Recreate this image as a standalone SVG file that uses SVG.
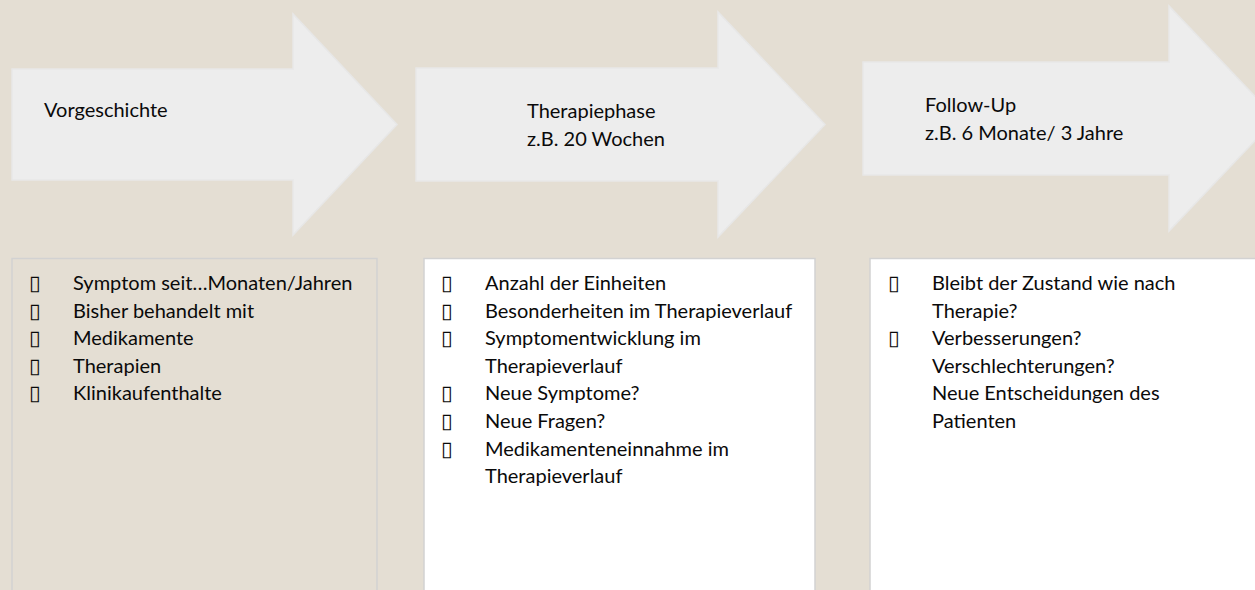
<svg xmlns="http://www.w3.org/2000/svg" width="1255" height="590" viewBox="0 0 1255 590">
  <style>
    .arrow { fill: #EDEDED; stroke: #E7E7E7; stroke-width: 1.5; }
    .box { stroke: #D2D2D2; stroke-width: 1.5; }
    .t { font-family: Lato, "Liberation Sans", sans-serif; font-size: 20px; fill: #0A0A0A; }
    .b { font-family: "DejaVu Sans", sans-serif; font-size: 21px; fill: #0A0A0A; }
  </style>
  <rect x="0" y="0" width="1255" height="590" fill="#E4DED3"/>

  <g id="arrow-vorgeschichte">
    <polygon class="arrow" points="12,69 293,69 293,14 397,124.5 293,235 293,180 12,180"/>
    <text class="t" x="44" y="117">Vorgeschichte</text>
  </g>

  <g id="arrow-therapiephase">
    <polygon class="arrow" points="416,68 718,68 718,12 825,124.5 718,237 718,181 416,181"/>
    <text class="t" x="527" y="118">Therapiephase</text>
    <text class="t" x="527" y="146">z.B. 20 Wochen</text>
  </g>

  <g id="arrow-followup">
    <polygon class="arrow" points="863,62 1169,62 1169,6 1276,118.5 1169,231 1169,175 863,175"/>
    <text class="t" x="925" y="112">Follow-Up</text>
    <text class="t" x="925" y="140">z.B. 6 Monate/ 3 Jahre</text>
  </g>

  <g id="box-vorgeschichte">
    <rect class="box" x="12" y="258.5" width="365" height="345" fill="none"/>
    <text class="b" x="29" y="290">▯</text>
    <text class="b" x="29" y="317.6">▯</text>
    <text class="b" x="29" y="345.2">▯</text>
    <text class="b" x="29" y="372.8">▯</text>
    <text class="b" x="29" y="400.4">▯</text>
    <text class="t" x="73" y="290">Symptom seit…Monaten/Jahren</text>
    <text class="t" x="73" y="317.6">Bisher behandelt mit</text>
    <text class="t" x="73" y="345.2">Medikamente</text>
    <text class="t" x="73" y="372.8">Therapien</text>
    <text class="t" x="73" y="400.4">Klinikaufenthalte</text>
  </g>

  <g id="box-therapiephase">
    <rect class="box" x="424" y="258.5" width="391" height="345" fill="#FFFFFF"/>
    <text class="b" x="441" y="290">▯</text>
    <text class="b" x="441" y="317.6">▯</text>
    <text class="b" x="441" y="345.2">▯</text>
    <text class="b" x="441" y="400.4">▯</text>
    <text class="b" x="441" y="428">▯</text>
    <text class="b" x="441" y="455.6">▯</text>
    <text class="t" x="485" y="290">Anzahl der Einheiten</text>
    <text class="t" x="485" y="317.6">Besonderheiten im Therapieverlauf</text>
    <text class="t" x="485" y="345.2">Symptomentwicklung im</text>
    <text class="t" x="485" y="372.8">Therapieverlauf</text>
    <text class="t" x="485" y="400.4">Neue Symptome?</text>
    <text class="t" x="485" y="428">Neue Fragen?</text>
    <text class="t" x="485" y="455.6">Medikamenteneinnahme im</text>
    <text class="t" x="485" y="483.2">Therapieverlauf</text>
  </g>

  <g id="box-followup">
    <rect class="box" x="870" y="258.5" width="400" height="345" fill="#FFFFFF"/>
    <text class="b" x="888" y="290">▯</text>
    <text class="b" x="888" y="345.2">▯</text>
    <text class="t" x="932" y="290">Bleibt der Zustand wie nach</text>
    <text class="t" x="932" y="317.6">Therapie?</text>
    <text class="t" x="932" y="345.2">Verbesserungen?</text>
    <text class="t" x="932" y="372.8">Verschlechterungen?</text>
    <text class="t" x="932" y="400.4">Neue Entscheidungen des</text>
    <text class="t" x="932" y="428">Patienten</text>
  </g>

  <g id="connectors"></g>
</svg>
